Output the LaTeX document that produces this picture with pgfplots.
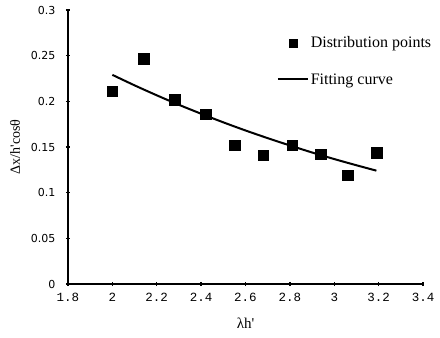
\documentclass[border=0pt]{standalone}
\usepackage{fontspec}
\setmainfont{Liberation Serif}
\newfontfamily\yfont{DejaVu Sans}
\newfontfamily\xfont{Liberation Mono}
\usepackage{pgfplots}
\pgfplotsset{compat=1.18}
\begin{document}
\begin{tikzpicture}
\begin{axis}[
  scale only axis,
  width=355bp, height=274bp,
  xmin=1.8, xmax=3.4, ymin=0, ymax=0.3,
  axis lines=left,
  axis line style={line width=1.4bp,-},
  xtick={1.8,2,2.2,2.4,2.6,2.8,3,3.2,3.4},
  ytick={0,0.05,0.1,0.15,0.2,0.25,0.3},
  major tick length=4bp,
  tick style={line width=1.4bp,black},
  /pgf/number format/assume math mode=true,
  /pgf/number format/fixed,
  /pgf/number format/precision=2,
  yticklabel style={font=\yfont\fontsize{11bp}{13bp}\selectfont, xshift=-7bp},
  xticklabel style={font=\xfont\fontsize{12.5bp}{14bp}\selectfont, yshift=-4bp},
  xlabel={λh\textquotesingle},
  xlabel style={font=\fontsize{15bp}{17bp}\selectfont, at={(axis description cs:0.5,0)}, anchor=base, yshift=-44bp},
  ylabel={Δx/h\textquotesingle cosθ},
  ylabel style={font=\fontsize{14bp}{16bp}\selectfont, at={(axis description cs:0,0.5)}, anchor=center, yshift=53bp},
  legend cell align=left,
  legend image code/.code={\draw[mark repeat=2,mark phase=2,#1] plot coordinates {(0bp,0bp)(15bp,0bp)(30bp,0bp)};},
  legend style={draw=none, fill=none, at={(axis cs:2.74,0.273)}, anchor=north west,
    font=\fontsize{16bp}{18bp}\selectfont, row sep=20bp, inner sep=0pt,
    /tikz/every even column/.append style={column sep=2bp}},
]
\addplot[only marks, mark=square*, mark size=5.3bp, black,
  legend image code/.code={\draw[##1, mark size=4bp] plot coordinates {(15bp,0bp)};}] coordinates {
(2.0,0.211) (2.14,0.247) (2.28,0.202) (2.42,0.186) (2.55,0.152)
(2.68,0.141) (2.81,0.152) (2.94,0.142) (3.06,0.119) (3.19,0.144)
};
\addlegendentry{Distribution points}
\addplot[black, line width=2bp, smooth] coordinates {
(2.0,0.229) (2.1,0.2175) (2.2,0.2066) (2.3,0.1962) (2.4,0.1864) (2.5,0.1770)
(2.6,0.1681) (2.7,0.1597) (2.8,0.1517) (2.9,0.1440) (3.0,0.1368) (3.1,0.1300) (3.19,0.1241)
};
\addlegendentry{Fitting curve}
\end{axis}
\path (current axis.south west) ++(-68bp,-54bp) coordinate (bl);
\path (current axis.north east) ++(17bp,10bp) coordinate (tr);
\pgfresetboundingbox
\path[use as bounding box] (bl) rectangle (tr);
\end{tikzpicture}
\end{document}
